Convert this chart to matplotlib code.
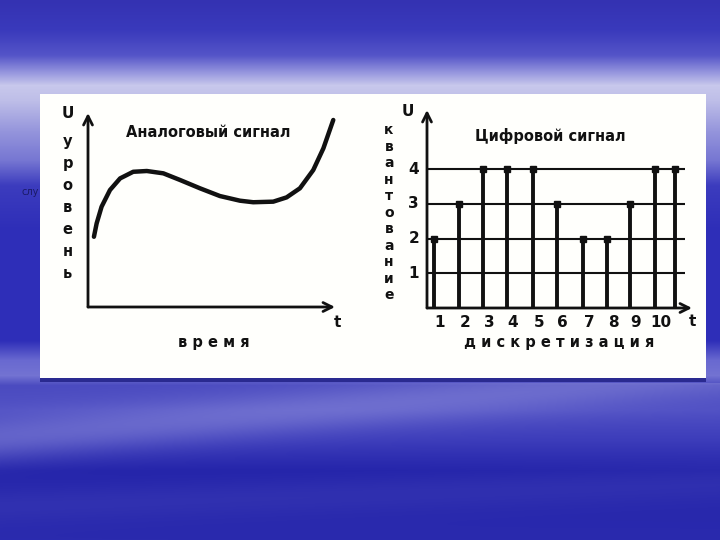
import numpy as np
import matplotlib
matplotlib.use("Agg")
import matplotlib.pyplot as plt
from matplotlib.patches import Rectangle

plt.rcParams['font.family'] = ['DejaVu Sans']

# ---------------- data ----------------
# analog signal (time, level)
analog_t = [0.24, 0.35, 0.55, 0.89, 1.30, 1.83, 2.38, 3.05, 3.72, 4.53, 5.34,
            6.15, 6.69, 7.50, 8.04, 8.58, 9.12, 9.53, 9.93]
analog_u = [3.62, 4.31, 5.17, 6.03, 6.63, 6.97, 7.01, 6.89, 6.55, 6.12, 5.72,
            5.48, 5.40, 5.43, 5.65, 6.12, 7.06, 8.18, 9.64]

# digital signal: sample positions and quantised levels
sample_t = [0.29, 1.33, 2.32, 3.32, 4.40, 5.39, 6.47, 7.47, 8.42, 9.46, 10.29]
sample_u = [2, 3, 4, 4, 4, 3, 2, 2, 3, 4, 4]
quant_levels = [1, 2, 3, 4]
sample_labels = ['1', '2', '3', '4', '5', '6', '7', '8', '9', '10']

left_title = 'Аналоговый сигнал'
right_title = 'Цифровой сигнал'
left_ylabel = 'уровень'
right_ylabel = 'квантование'
left_xlabel = 'в р е м я'
right_xlabel = 'д и с к р е т и з а ц и я'

W, H = 720, 540
fig = plt.figure(figsize=(W / 100, H / 100), dpi=100)

# ---------------- background (sky gradient) ----------------
bg = fig.add_axes([0, 0, 1, 1])
stops_y = [0, 30, 55, 72, 85, 100, 130, 160, 185, 230, 340, 360, 375,
           385, 410, 440, 470, 540]
stops_c = np.array([(52, 50, 178), (58, 58, 188), (85, 85, 200), (150, 150, 222),
                    (200, 200, 236), (190, 190, 232), (150, 150, 220), (118, 118, 210),
                    (60, 60, 190), (46, 46, 184), (46, 46, 184), (105, 105, 208),
                    (115, 115, 210), (75, 75, 192), (80, 80, 196), (60, 60, 186),
                    (36, 36, 170), (42, 42, 174)]) / 255.0
yy = np.arange(H)
grad = np.stack([np.interp(yy, stops_y, stops_c[:, k]) for k in range(3)], axis=1)
img = np.repeat(grad[:, None, :], W, axis=1)
Y, X = np.mgrid[0:H, 0:W]
cloud_col = np.array([160, 160, 226]) / 255.0
band1 = np.exp(-((Y - (438 - 0.09 * X)) / 22.0) ** 2) * 0.38 * (Y > 382)
band2 = np.exp(-((Y - (505 - 0.03 * X)) / 18.0) ** 2) * 0.08
band = np.clip(band1 + band2, 0, 1)[..., None]
img = img * (1 - band) + cloud_col * band
bg.imshow(img, extent=[0, W, H, 0], aspect='auto', interpolation='bilinear')
bg.set_xlim(0, W)
bg.set_ylim(H, 0)
bg.axis('off')
bg.add_patch(Rectangle((40, 378), 666, 4, color='#2a2a90', lw=0))
bg.add_patch(Rectangle((40, 94), 666, 284, facecolor='#fffffc', edgecolor='none'))
bg.text(22, 192, 'слу', fontsize=7, color='#1a1a66', va='center', ha='left')

def px_axes(x0, x1, y_top, y_bot):
    return fig.add_axes([x0 / W, 1 - y_bot / H, (x1 - x0) / W, (y_bot - y_top) / H])

ink = '#111111'
bold = dict(fontweight='bold', color=ink)

# ---------------- left: analog ----------------
axL = px_axes(88, 335, 113, 307)
axL.set_xlim(0, 10)
axL.set_ylim(0, 10)
axL.axis('off')
arrow = dict(arrowstyle='->', lw=2, color=ink, mutation_scale=16, shrinkA=0, shrinkB=0)
axL.annotate('', xy=(10, 0), xytext=(0, 0), arrowprops=arrow, annotation_clip=False)
axL.annotate('', xy=(0, 10), xytext=(0, 0), arrowprops=arrow, annotation_clip=False)
axL.plot(analog_t, analog_u, color=ink, lw=3.2, solid_capstyle='round', clip_on=False)
axL.text(-0.8, 10.0, 'U', fontsize=11, ha='center', va='center', **bold)
axL.text(10.1, -0.8, 't', fontsize=11, ha='center', va='center', **bold)
axL.text(4.85, 9.0, left_title, fontsize=10.5, ha='center', va='center', **bold)
axL.text(5.1, -1.85, left_xlabel, fontsize=10.5, ha='center', va='center', **bold)
for i, ch in enumerate(left_ylabel):
    axL.text(-0.82, 8.55 - i * 1.14, ch, fontsize=10.5, ha='center', va='center', **bold)

# ---------------- right: digital ----------------
axR = px_axes(427, 692, 110, 308)
axR.set_xlim(0, 11)
axR.set_ylim(0, 5.7)
axR.axis('off')
axR.annotate('', xy=(11, 0), xytext=(0, 0), arrowprops=arrow, annotation_clip=False)
axR.annotate('', xy=(0, 5.7), xytext=(0, 0), arrowprops=arrow, annotation_clip=False)
axR.hlines(quant_levels, 0, 10.7, color=ink, lw=1.5)
axR.vlines(sample_t, 0, sample_u, color=ink, lw=2.8)
axR.plot(sample_t, sample_u, 's', color=ink, ms=5)
for lv in quant_levels:
    axR.text(-0.55, lv, str(lv), fontsize=11, ha='center', va='center', **bold)
for t, lab in zip(sample_t, sample_labels):
    axR.text(t + 0.25, -0.42, lab, fontsize=11, ha='center', va='center', **bold)
axR.text(-0.8, 5.67, 'U', fontsize=11, ha='center', va='center', **bold)
axR.text(11.0, -0.38, 't', fontsize=11, ha='center', va='center', **bold)
axR.text(5.1, 4.95, right_title, fontsize=10.5, ha='center', va='center', **bold)
axR.text(5.5, -0.98, right_xlabel, fontsize=10.5, ha='center', va='center', **bold)
for i, ch in enumerate(right_ylabel):
    axR.text(-1.58, 5.12 - i * 0.476, ch, fontsize=10, ha='center', va='center', **bold)

fig.savefig('out.png', dpi=100)
